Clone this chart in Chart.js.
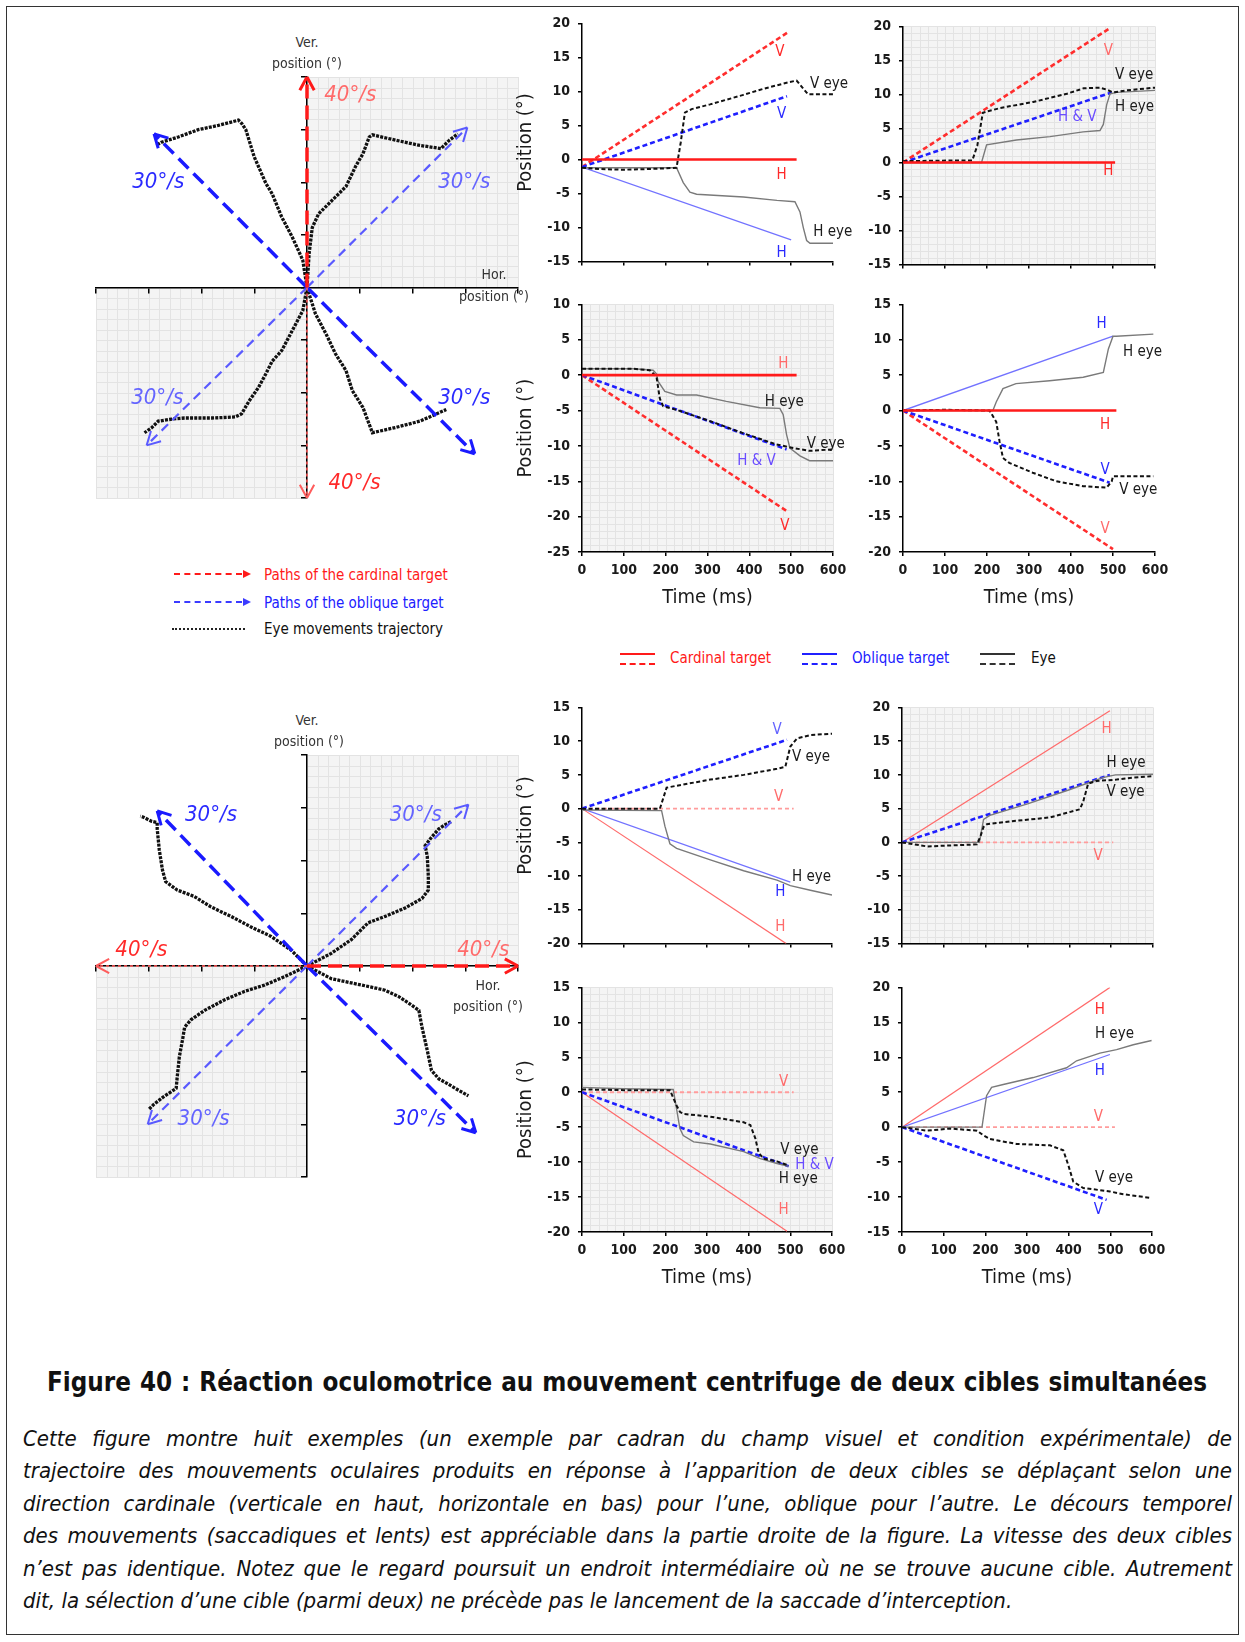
<!DOCTYPE html>
<html>
<head>
<meta charset="utf-8">
<script src="https://cdn.jsdelivr.net/npm/chart.js@4.4.1/dist/chart.umd.min.js"></script>
<style>
  body { margin: 0; background: #fff; }
  #page { position: relative; width: 1245px; height: 1642px; overflow: hidden;
          font-family: "Liberation Sans Narrow", "DejaVu Sans Condensed", "Open Sans", sans-serif; }
  canvas { position: absolute; }
  .t { position: absolute; white-space: nowrap; line-height: 1; transform: translateY(-50%); z-index: 2; }
  .c { transform: translate(-50%, -50%); }
  .frame { position: absolute; left: 6px; top: 6px; width: 1231px; height: 1627px; border: 1.5px solid #333; }
  .cap { position: absolute; left: 23px; width: 1209px; font-style: italic; line-height: 1;
         text-align: justify; text-align-last: justify; transform: translateY(-50%); color: #111; }
  .icon { position: absolute; width: 35px; height: 8px; }
</style>
</head>
<body>
<div id="page">
  <div class="frame"></div>

  <!-- axis names of the two trajectory plots -->
  <div class="t c" style="left:307px;top:42px;font-size:14px;color:#333">Ver.</div>
  <div class="t c" style="left:307px;top:63px;font-size:14px;color:#333">position (°)</div>
  <div class="t c" style="left:494px;top:274px;font-size:14px;color:#333">Hor.</div>
  <div class="t c" style="left:494px;top:296px;font-size:14px;color:#333">position (°)</div>
  <div class="t c" style="left:307px;top:720px;font-size:14px;color:#333">Ver.</div>
  <div class="t c" style="left:309px;top:741px;font-size:14px;color:#333">position (°)</div>
  <div class="t c" style="left:488px;top:985px;font-size:14px;color:#333">Hor.</div>
  <div class="t c" style="left:488px;top:1006px;font-size:14px;color:#333">position (°)</div>

  <!-- legend under the first trajectory -->
  <div style="position:absolute;left:174px;top:573px;width:68px;border-top:2.5px dashed #ff1a1a"></div>
  <div style="position:absolute;left:243px;top:570px;border-left:8px solid #ff1a1a;border-top:4px solid transparent;border-bottom:4px solid transparent"></div>
  <div class="t" style="left:264px;top:575px;font-size:15px;color:#ff1a1a">Paths of the cardinal target</div>
  <div style="position:absolute;left:174px;top:601px;width:68px;border-top:2.5px dashed #3b3bff"></div>
  <div style="position:absolute;left:243px;top:598px;border-left:8px solid #3b3bff;border-top:4px solid transparent;border-bottom:4px solid transparent"></div>
  <div class="t" style="left:264px;top:603px;font-size:15px;color:#2020ff">Paths of the oblique target</div>
  <div style="position:absolute;left:172px;top:628px;width:73px;border-top:2px dotted #222"></div>
  <div class="t" style="left:264px;top:629px;font-size:15px;color:#111">Eye movements trajectory</div>

  <!-- legend of the time plots -->
  <div class="icon" style="left:620px;top:653px;border-top:2px solid #ff1a1a;border-bottom:2px dashed #ff1a1a"></div>
  <div class="t" style="left:670px;top:658px;font-size:15px;color:#ff1a1a">Cardinal target</div>
  <div class="icon" style="left:802px;top:653px;border-top:2px solid #2020ff;border-bottom:2px dashed #2020ff"></div>
  <div class="t" style="left:852px;top:658px;font-size:15px;color:#2020ff">Oblique target</div>
  <div class="icon" style="left:980px;top:653px;border-top:2px solid #333;border-bottom:2px dashed #333"></div>
  <div class="t" style="left:1031px;top:658px;font-size:15px;color:#111">Eye</div>

  <div id="title" class="t" style="left:47px;top:1383px;width:1160px;font-size:27px;font-weight:bold;color:#111;text-align:justify;text-align-last:justify;white-space:normal">Figure 40 : Réaction oculomotrice au mouvement centrifuge de deux cibles simultanées</div>

  <div class="cap" style="top:1439px">Cette figure montre huit exemples (un exemple par cadran du champ visuel et condition expérimentale) de</div>
  <div class="cap" style="top:1471px">trajectoire des mouvements oculaires produits en réponse à l’apparition de deux cibles se déplaçant selon une</div>
  <div class="cap" style="top:1504px">direction cardinale (verticale en haut, horizontale en bas) pour l’une, oblique pour l’autre. Le décours temporel</div>
  <div class="cap" style="top:1536px">des mouvements (saccadiques et lents) est appréciable dans la partie droite de la figure. La vitesse des deux cibles</div>
  <div class="cap" style="top:1569px">n’est pas identique. Notez que le regard poursuit un endroit intermédiaire où ne se trouve aucune cible. Autrement</div>
  <div class="cap" style="top:1601px;text-align-last:left">dit, la sélection d’une cible (parmi deux) ne précède pas le lancement de la saccade d’interception.</div>
</div>

<script>
const NARROW = '"Liberation Sans Narrow", "DejaVu Sans Condensed", "Open Sans", sans-serif';

// ---- time plots: [time ms, position deg] ----
// A: top row, left
const aCardH = [[0, 0], [513, 0]];
const aCardV = [[0, -1.1], [490, 18.6]];
const aObliV = [[0, -1.1], [490, 9.3]];
const aObliH = [[0, -1.1], [500, -11.8]];
const aEyeV = [[0, -1.2], [40, -1.4], [100, -1.5], [160, -1.4], [200, -1.3], [226, -1.2], [236, 2.5], [246, 6.9], [262, 7.4], [306, 8.1], [386, 9.5], [434, 10.4], [466, 10.9], [497, 11.4], [513, 11.6], [529, 10.4], [540, 9.6], [600, 9.6]];
const aEyeH = [[0, -1.2], [226, -1.2], [242, -3.4], [258, -4.8], [274, -5.1], [386, -5.5], [466, -6.0], [509, -6.2], [521, -7.7], [529, -10.0], [537, -11.9], [545, -12.3], [600, -12.3]];
// B: top row, right
const bCardH = [[0, 0], [505, 0]];
const bCardV = [[0, 0], [489, 19.6]];
const bObliHV = [[0, 0], [497, 10.3]];
const bEyeV = [[0, 0.2], [120, 0.3], [165, 0.3], [177, 2.5], [190, 7.3], [200, 7.5], [231, 8.0], [310, 8.9], [390, 10.1], [430, 10.9], [469, 11.0], [485, 10.7], [500, 10.3], [533, 10.6], [600, 11.0]];
const bEyeH = [[0, 0], [187, 0], [199, 2.6], [270, 3.3], [350, 3.8], [429, 4.5], [469, 4.7], [477, 5.6], [485, 8.5], [493, 10.1], [509, 10.3], [600, 10.6]];
// C: second row, left
const cCardH = [[0, 0], [513, 0]];
const cCardV = [[0, 0], [489, -19.2]];
const cObliHV = [[0, 0], [489, -10.5]];
const cEyeV = [[0, 0.9], [123, 0.9], [162, 0.7], [178, -0.2], [186, -3.3], [194, -4.4], [226, -4.9], [306, -6.5], [385, -8.2], [465, -9.8], [505, -10.3], [544, -10.7], [600, -10.5]];
const cEyeH = [[0, 0.9], [123, 0.9], [170, 0.7], [178, 0.2], [182, -0.9], [198, -2.3], [226, -2.8], [274, -2.8], [345, -3.7], [425, -4.6], [473, -4.7], [481, -5.6], [489, -8.4], [497, -10.3], [521, -11.4], [544, -12.1], [600, -12.1]];
// D: second row, right
const dCardH = [[0, 0], [508, 0]];
const dCardV = [[0, 0], [500, -19.6]];
const dObliH = [[0, 0], [500, 10.5]];
const dObliV = [[0, 0], [492, -10.2]];
const dEyeV = [[0, 0], [100, 0.1], [206, 0], [222, -1.6], [230, -4.4], [238, -6.7], [253, -7.4], [309, -8.8], [365, -10.0], [429, -10.7], [485, -10.9], [497, -10.0], [500, -9.3], [596, -9.3]];
const dEyeH = [[0, 0], [214, 0], [222, 1.2], [238, 3.1], [269, 3.8], [349, 4.2], [429, 4.7], [477, 5.4], [489, 8.7], [500, 10.5], [508, 10.5], [596, 10.8]];
// E: third row, left
const eCardV = [[0, 0], [508, 0]];
const eCardH = [[0, 0], [490, -20]];
const eObliV = [[0, 0], [492, 10.2]];
const eObliH = [[0, 0], [500, -10.9]];
const eEyeV = [[0, 0], [187, 0], [203, 3.1], [219, 3.3], [308, 4.3], [388, 5.0], [468, 5.9], [488, 6.2], [500, 9.2], [516, 10.4], [548, 10.9], [600, 11.1]];
const eEyeH = [[0, -0.2], [191, -0.3], [199, -2.6], [211, -5.2], [227, -5.9], [308, -7.6], [388, -9.2], [468, -10.6], [500, -11.4], [548, -12.1], [600, -12.8]];
// F: third row, right
const fCardV = [[0, 0], [505, 0]];
const fCardH = [[0, 0], [497, 19.5]];
const fObliHV = [[0, 0], [497, 10.0]];
const fEyeV = [[0, 0], [60, -0.6], [179, -0.3], [187, 0.8], [195, 2.3], [203, 2.7], [274, 3.2], [354, 3.7], [425, 4.9], [433, 6.0], [445, 8.7], [465, 9.1], [513, 9.3], [553, 9.6], [600, 9.8]];
const fEyeH = [[0, 0], [185, 0], [195, 3.4], [210, 4.0], [300, 5.7], [400, 7.8], [480, 9.6], [510, 10.0], [600, 10.1]];
// G: bottom row, left
const gCardV = [[0, 0], [508, 0]];
const gCardH = [[0, 0], [492, -19.9]];
const gObliHV = [[0, 0], [496, -10.6]];
const gEyeV = [[0, 0.4], [100, 0.3], [211, 0.3], [227, -1.9], [235, -2.8], [243, -3.1], [308, -3.5], [388, -4.3], [404, -4.7], [416, -6.6], [424, -8.7], [436, -9.5], [468, -9.9], [492, -10.4]];
const gEyeH = [[0, 0.7], [100, 0.5], [219, 0.4], [235, -5.2], [243, -6.2], [268, -7.1], [308, -7.4], [388, -8.5], [428, -9.5], [468, -10.2], [496, -10.6]];
// H: bottom row, right
const hCardV = [[0, 0], [511, 0]];
const hCardH = [[0, 0], [499, 20]];
const hObliH = [[0, 0], [499, 10.4]];
const hObliV = [[0, 0], [491, -10.4]];
const hEyeH = [[0, 0], [192, 0], [203, 4.5], [215, 5.7], [243, 6.1], [315, 7.1], [395, 8.5], [419, 9.5], [475, 10.6], [515, 11.1], [555, 11.8], [599, 12.4]];
const hEyeV = [[0, 0], [60, -0.5], [116, -0.2], [180, -0.5], [196, -1.2], [211, -1.7], [275, -2.4], [355, -2.6], [387, -3.3], [399, -5.4], [411, -7.8], [435, -8.7], [499, -9.2], [531, -9.6], [595, -10.1]];

const timeTicks = [0, 100, 200, 300, 400, 500, 600];

// ---- trajectory plots: [hor deg, ver deg] ----
const t1CardUp = [[0, 0], [0, 20]];
const t1CardDown = [[0, 0], [0, -20]];
const t1ObliUL = [[0, 0], [-14.5, 14.6]];
const t1ObliUR = [[0, 0], [15.2, 15.2]];
const t1ObliLL = [[0, 0], [-15.2, -15]];
const t1ObliLR = [[0, 0], [15.9, -15.8]];
const t1EyeUL = [[0, 0], [-0.4, 2.6], [-1.4, 4.8], [-2.4, 6.7], [-3.3, 8.9], [-3.9, 9.9], [-4.6, 11.5], [-5.0, 12.4], [-5.4, 13.7], [-5.8, 15.0], [-6.2, 15.6], [-6.5, 15.9], [-8.4, 15.4], [-10.3, 15.0], [-12.2, 14.3], [-13.8, 13.8], [-14.3, 13.5]];
const t1EyeUR = [[0, 0], [0.2, 3.2], [0.5, 5.7], [1.1, 7.0], [2.4, 8.3], [3.7, 9.6], [4.6, 11.5], [5.3, 12.7], [5.9, 14.3], [6.2, 14.5], [8.4, 14.0], [10.7, 13.5], [12.7, 13.2], [13.5, 14.0], [14.3, 14.6]];
const t1EyeLL = [[0, 0], [-0.4, -2.2], [-1.4, -4.1], [-2.4, -6.0], [-3.3, -7.0], [-3.9, -8.2], [-4.6, -9.5], [-5.5, -10.8], [-6.2, -12.0], [-6.8, -12.3], [-9.0, -12.4], [-11.6, -12.4], [-12.8, -12.5], [-14.1, -12.7], [-14.7, -13.3], [-15.4, -13.8]];
const t1EyeLR = [[0, 0], [0.8, -2.5], [1.8, -4.4], [2.7, -6.3], [3.7, -7.9], [4.3, -9.8], [5.3, -11.4], [5.9, -13.0], [6.2, -13.8], [8.4, -13.3], [10.7, -12.7], [12.3, -12.0], [13.2, -11.6]];

const t2CardRight = [[0, 0], [20, 0]];
const t2CardLeft = [[0, 0], [-20, 0]];
const t2ObliUL = [[0, 0], [-14.2, 14.7]];
const t2ObliUR = [[0, 0], [15.3, 15.3]];
const t2ObliLL = [[0, 0], [-15.1, -15.0]];
const t2ObliLR = [[0, 0], [16.0, -15.8]];
const t2EyeUL = [[0, 0], [-1.5, 1.5], [-3.4, 2.8], [-5.3, 3.7], [-7.2, 4.7], [-9.1, 5.6], [-10.7, 6.6], [-12.3, 7.2], [-13.4, 8.0], [-13.7, 9.1], [-14.0, 11.0], [-14.2, 13.0], [-14.2, 13.6], [-14.7, 13.7], [-15.5, 14.1], [-15.8, 14.2]];
const t2EyeUR = [[0, 0], [2.3, 1.2], [4.2, 2.5], [5.8, 4.1], [7.4, 4.7], [9.3, 5.5], [10.9, 6.4], [11.5, 7.2], [11.5, 8.5], [11.4, 10.4], [11.2, 11.4], [11.8, 12.2], [12.5, 13.0], [13.1, 13.4], [13.7, 13.7]];
const t2EyeLL = [[0, 0], [-2.1, -1.0], [-4.0, -1.8], [-5.9, -2.4], [-7.8, -3.2], [-9.7, -4.2], [-11.0, -5.1], [-11.6, -5.8], [-11.8, -7.0], [-12.1, -8.6], [-12.3, -10.5], [-12.4, -11.6], [-13.6, -12.4], [-14.5, -13.1], [-15.0, -13.6]];
const t2EyeLR = [[0, 0], [2.3, -1.2], [4.2, -1.6], [6.1, -2.0], [7.4, -2.3], [8.7, -2.9], [9.9, -3.7], [10.6, -4.2], [10.9, -5.8], [11.4, -8.0], [11.8, -9.9], [12.5, -10.7], [13.4, -11.2], [14.4, -11.8], [15.3, -12.3]];

// line looks
const look = {
  cardH:     { borderColor: '#ff1a1a', borderWidth: 2.6 },
  cardV:     { borderColor: '#ff2d2d', borderWidth: 2.6, borderDash: [5, 3] },
  cardHthin: { borderColor: '#ff6a6a', borderWidth: 1.2 },
  cardVthin: { borderColor: '#ff9c9c', borderWidth: 1.8, borderDash: [4, 3] },
  obliDash:  { borderColor: '#1f1fff', borderWidth: 2.6, borderDash: [5, 3] },
  obliThin:  { borderColor: '#7272ff', borderWidth: 1.3 },
  eyeV:      { borderColor: '#111', borderWidth: 2, borderDash: [4, 2.5] },
  eyeH:      { borderColor: '#7a7a7a', borderWidth: 1.4 },
  tCardThick: { borderColor: '#ff1a1a', borderWidth: 3.5, borderDash: [14, 7], arrow: 3 },
  tCardThin:  { borderColor: '#ff5c5c', borderWidth: 1.6, borderDash: [3, 3], arrow: 2 },
  tObliThick: { borderColor: '#1a1aff', borderWidth: 3.5, borderDash: [14, 7], arrow: 3 },
  tObliThin:  { borderColor: '#5a5aff', borderWidth: 2.2, borderDash: [9, 6], arrow: 2 },
  eyeTraj:   { borderColor: '#111', borderWidth: 3.3, borderDash: [3, 1.2] }
};

const pts = a => a.map(([x, y]) => ({ x, y }));
const page = document.getElementById('page');

function lineSet(arr, name) {
  return Object.assign({ data: pts(arr), showLine: true, pointRadius: 0, fill: false, tension: 0 }, look[name]);
}

// text marks placed in data units through the scales
function tagPlugin(tags, font) {
  return {
    id: 'tags',
    afterDatasetsDraw(chart) {
      const { ctx, scales: { x, y } } = chart;
      ctx.save();
      ctx.font = font;
      ctx.textBaseline = 'middle';
      tags.forEach(([text, vx, vy, color, align]) => {
        ctx.fillStyle = color;
        ctx.textAlign = align || 'center';
        ctx.fillText(text, x.getPixelForValue(vx), y.getPixelForValue(vy));
      });
      ctx.restore();
    }
  };
}

// light graph-paper background, from the scales
function paperPlugin(ranges) {
  return {
    id: 'paper',
    beforeDraw(chart) {
      const { ctx, scales: { x, y } } = chart;
      ctx.save();
      ranges.forEach(([x0, x1, y0, y1, sx, sy]) => {
        const l = x.getPixelForValue(x0), r = x.getPixelForValue(x1);
        const t = y.getPixelForValue(y1), b = y.getPixelForValue(y0);
        ctx.fillStyle = '#f4f4f4';
        ctx.fillRect(l, t, r - l, b - t);
        ctx.strokeStyle = '#e3e3e3';
        ctx.lineWidth = 1;
        ctx.beginPath();
        for (let v = x0; v <= x1 + 1e-6; v += sx) {
          const p = Math.round(x.getPixelForValue(v)) + 0.5;
          ctx.moveTo(p, t); ctx.lineTo(p, b);
        }
        for (let v = y0; v <= y1 + 1e-6; v += sy) {
          const p = Math.round(y.getPixelForValue(v)) + 0.5;
          ctx.moveTo(l, p); ctx.lineTo(r, p);
        }
        ctx.stroke();
      });
      ctx.restore();
    }
  };
}

const arrowPlugin = {
  id: 'arrows',
  afterDatasetsDraw(chart) {
    const ctx = chart.ctx;
    chart.data.datasets.forEach((ds, i) => {
      if (!ds.arrow) return;
      const p = chart.getDatasetMeta(i).data;
      const a = p[p.length - 2], b = p[p.length - 1];
      const ang = Math.atan2(b.y - a.y, b.x - a.x);
      ctx.save();
      ctx.strokeStyle = ds.borderColor;
      ctx.lineWidth = ds.arrow;
      ctx.setLineDash([]);
      ctx.beginPath();
      [-0.5, 0.5].forEach(d => {
        ctx.moveTo(b.x, b.y);
        ctx.lineTo(b.x - 15 * Math.cos(ang + d), b.y - 15 * Math.sin(ang + d));
      });
      ctx.stroke();
      ctx.restore();
    });
  }
};

function addCanvas(left, top, w, h) {
  const cv = document.createElement('canvas');
  cv.width = w; cv.height = h;
  cv.style.left = left + 'px'; cv.style.top = top + 'px';
  page.appendChild(cv);
  return cv;
}

function panel(box, o) {
  const [L, T, R, B] = box;
  const padTop = 14, yW = 80, padRight = 75;
  const xH = o.xLabels ? 62 : 8;
  const cv = addCanvas(L - yW, T - padTop, yW + (R - L) + padRight, padTop + (B - T) + xH);
  const tickFont = { family: NARROW, size: 14, weight: 'bold' };
  const axisLine = { color: '#000', width: 1.5 };
  const marks = { drawOnChartArea: false, tickLength: 4, color: '#000', lineWidth: 1.5 };
  const plugins = [tagPlugin(o.tags, '15px ' + NARROW)];
  if (o.grid) plugins.push(paperPlugin([[0, 600, o.y[0], o.y[1], 20, 1]]));
  new Chart(cv, {
    type: 'scatter',
    data: { datasets: o.series.map(([arr, name]) => lineSet(arr, name)) },
    plugins,
    options: {
      responsive: false, animation: false, devicePixelRatio: 1,
      layout: { padding: { top: padTop, right: padRight, left: 0, bottom: 0 } },
      plugins: { legend: { display: false }, tooltip: { enabled: false } },
      scales: {
        x: {
          type: 'linear', min: 0, max: 600,
          afterBuildTicks: s => { s.ticks = timeTicks.map(v => ({ value: v })); },
          ticks: { display: o.xLabels, font: tickFont, color: '#1a1a1a', padding: 6, maxRotation: 0 },
          grid: marks, border: axisLine,
          title: { display: o.xLabels, text: 'Time (ms)', font: { family: NARROW, size: 20 }, color: '#1a1a1a', padding: { top: 2 } },
          afterFit: s => { s.height = xH; }
        },
        y: {
          type: 'linear', min: o.y[0], max: o.y[1],
          ticks: { stepSize: 5, font: tickFont, color: '#1a1a1a', padding: 8 },
          grid: marks, border: axisLine,
          title: { display: o.yTitle, text: 'Position (°)', font: { family: NARROW, size: 20 }, color: '#1a1a1a', padding: { top: 12, bottom: 0 } },
          afterFit: s => { s.width = yW; }
        }
      }
    }
  });
}

function trajectory(box, o) {
  const [L, T, R, B] = box;
  const pad = 20;
  const cv = addCanvas(L - pad, T - pad, R - L + 2 * pad, B - T + 2 * pad);
  const marks = { drawOnChartArea: false, tickLength: 5, color: '#000', lineWidth: 1.5 };
  new Chart(cv, {
    type: 'scatter',
    data: { datasets: o.targets.map(([arr, name]) => lineSet(arr, name)).concat(o.eyes.map(arr => lineSet(arr, 'eyeTraj'))) },
    plugins: [paperPlugin([[0, 20, 0, 20, 1, 1], [-20, 0, -20, 0, 1, 1]]), arrowPlugin, tagPlugin(o.tags, 'italic 22px ' + NARROW)],
    options: {
      responsive: false, animation: false, devicePixelRatio: 1,
      layout: { padding: pad },
      plugins: { legend: { display: false }, tooltip: { enabled: false } },
      scales: {
        x: { type: 'linear', min: -20, max: 20, position: { y: 0 }, ticks: { display: false, stepSize: 5 },
             grid: marks, border: { color: '#000', width: 1.5 }, afterFit: s => { s.height = 0; } },
        y: { type: 'linear', min: -20, max: 20, position: { x: 0 }, ticks: { display: false, stepSize: 5 },
             grid: marks, border: { color: '#000', width: 1.5 }, afterFit: s => { s.width = 0; } }
      }
    }
  });
}

const RED = '#ff2a2a', REDL = '#ff6b6b', BLUE = '#2a2aff', BLUEL = '#6464ff', INK = '#1a1a1a', HV = '#6a4cff';

trajectory([96, 77, 518, 498], {
  targets: [[t1CardUp, 'tCardThick'], [t1CardDown, 'tCardThin'], [t1ObliUL, 'tObliThick'], [t1ObliUR, 'tObliThin'], [t1ObliLL, 'tObliThin'], [t1ObliLR, 'tObliThick']],
  eyes: [t1EyeUL, t1EyeUR, t1EyeLL, t1EyeLR],
  tags: [['40°/s', 4.1, 18.3, REDL], ['40°/s', 4.5, -18.6, RED], ['30°/s', -14.1, 10.0, BLUE], ['30°/s', 14.9, 10.0, BLUEL], ['30°/s', -14.2, -10.5, BLUEL], ['30°/s', 14.9, -10.5, BLUE]]
});
trajectory([96, 755, 518, 1177], {
  targets: [[t2CardRight, 'tCardThick'], [t2CardLeft, 'tCardThin'], [t2ObliUL, 'tObliThick'], [t2ObliUR, 'tObliThin'], [t2ObliLL, 'tObliThin'], [t2ObliLR, 'tObliThick']],
  eyes: [t2EyeUL, t2EyeUR, t2EyeLL, t2EyeLR],
  tags: [['40°/s', -15.7, 1.5, RED], ['40°/s', 16.7, 1.5, REDL], ['30°/s', -9.1, 14.3, BLUE], ['30°/s', 10.3, 14.3, BLUEL], ['30°/s', -9.8, -14.5, BLUEL], ['30°/s', 10.7, -14.5, BLUE]]
});

panel([582, 21, 833, 270], { y: [-15, 20], grid: false, xLabels: false, yTitle: true,
  series: [[aCardH, 'cardH'], [aEyeV, 'eyeV'], [aEyeH, 'eyeH'], [aObliV, 'obliDash'], [aObliH, 'obliThin'], [aCardV, 'cardV']],
  tags: [['V', 473, 15.8, RED], ['V eye', 545, 11.1, INK, 'left'], ['V', 477, 6.7, BLUE], ['H', 477, -2.3, RED], ['H eye', 553, -10.7, INK, 'left'], ['H', 477, -13.8, BLUE]] });
panel([903, 24, 1155, 273], { y: [-15, 20], grid: true, xLabels: false, yTitle: false,
  series: [[bCardH, 'cardH'], [bEyeV, 'eyeV'], [bEyeH, 'eyeH'], [bObliHV, 'obliDash'], [bCardV, 'cardV']],
  tags: [['V', 489, 16.4, REDL], ['V eye', 505, 12.9, INK, 'left'], ['H eye', 505, 8.2, INK, 'left'], ['H & V', 415, 6.6, HV], ['H', 489, -1.2, RED]] });
panel([582, 302, 833, 552], { y: [-25, 10], grid: true, xLabels: true, yTitle: true,
  series: [[cCardH, 'cardH'], [cEyeV, 'eyeV'], [cEyeH, 'eyeH'], [cObliHV, 'obliDash'], [cCardV, 'cardV']],
  tags: [['H', 481, 1.6, REDL], ['H eye', 437, -3.8, INK, 'left'], ['V eye', 537, -9.8, INK, 'left'], ['H & V', 417, -12.2, HV], ['V', 485, -21.3, RED]] });
panel([903, 302, 1155, 552], { y: [-20, 15], grid: false, xLabels: true, yTitle: false,
  series: [[dCardH, 'cardH'], [dEyeV, 'eyeV'], [dEyeH, 'eyeH'], [dObliV, 'obliDash'], [dObliH, 'obliThin'], [dCardV, 'cardV']],
  tags: [['H', 473, 12.2, BLUE], ['H eye', 524, 8.2, INK, 'left'], ['H', 481, -2.1, RED], ['V', 481, -8.4, BLUE], ['V eye', 515, -11.2, INK, 'left'], ['V', 481, -16.8, REDL]] });
panel([582, 705, 832, 952], { y: [-20, 15], grid: false, xLabels: false, yTitle: true,
  series: [[eEyeV, 'eyeV'], [eEyeH, 'eyeH'], [eObliV, 'obliDash'], [eObliH, 'obliThin'], [eCardV, 'cardVthin'], [eCardH, 'cardHthin']],
  tags: [['V', 468, 11.6, BLUEL], ['V eye', 504, 7.6, INK, 'left'], ['V', 472, 1.7, REDL], ['H eye', 504, -10.2, INK, 'left'], ['H', 476, -12.3, BLUE], ['H', 476, -17.5, REDL]] });
panel([902, 705, 1153, 952], { y: [-15, 20], grid: true, xLabels: false, yTitle: false,
  series: [[fEyeV, 'eyeV'], [fEyeH, 'eyeH'], [fObliHV, 'obliDash'], [fCardV, 'cardVthin'], [fCardH, 'cardHthin']],
  tags: [['H', 489, 16.8, REDL], ['H eye', 489, 11.7, INK, 'left'], ['V eye', 489, 7.5, INK, 'left'], ['V', 469, -2.0, REDL]] });
panel([582, 985, 832, 1232], { y: [-20, 15], grid: true, xLabels: true, yTitle: true,
  series: [[gEyeV, 'eyeV'], [gEyeH, 'eyeH'], [gObliHV, 'obliDash'], [gCardV, 'cardVthin'], [gCardH, 'cardHthin']],
  tags: [['V', 484, 1.4, REDL], ['V eye', 476, -8.3, INK, 'left'], ['H & V', 512, -10.4, HV, 'left'], ['H eye', 472, -12.5, INK, 'left'], ['H', 484, -16.8, REDL]] });
panel([902, 985, 1152, 1232], { y: [-15, 20], grid: false, xLabels: true, yTitle: false,
  series: [[hEyeV, 'eyeV'], [hEyeH, 'eyeH'], [hObliH, 'obliThin'], [hObliV, 'obliDash'], [hCardV, 'cardVthin'], [hCardH, 'cardHthin']],
  tags: [['H', 475, 16.7, RED], ['H eye', 463, 13.3, INK, 'left'], ['H', 475, 8.0, BLUE], ['V', 471, 1.5, REDL], ['V eye', 463, -7.3, INK, 'left'], ['V', 471, -11.9, BLUE]] });

// fit title and caption lines to the widths they take in the reference
const meas = document.createElement('canvas').getContext('2d');
function natural(el, size) {
  const cs = getComputedStyle(el);
  meas.font = `${cs.fontStyle} ${cs.fontWeight} ${size}px ${cs.fontFamily}`;
  return meas.measureText(el.textContent).width;
}
const title = document.getElementById('title');
title.style.fontSize = Math.min(30, 27 * 1150 / natural(title, 27)) + 'px';
const caps = [...document.querySelectorAll('.cap')];
let capSize = 22;
caps.slice(0, 5).forEach(el => { capSize = Math.min(capSize, 22 * 1200 / natural(el, 22)); });
caps.forEach(el => { el.style.fontSize = capSize + 'px'; });
</script>
</body>
</html>
